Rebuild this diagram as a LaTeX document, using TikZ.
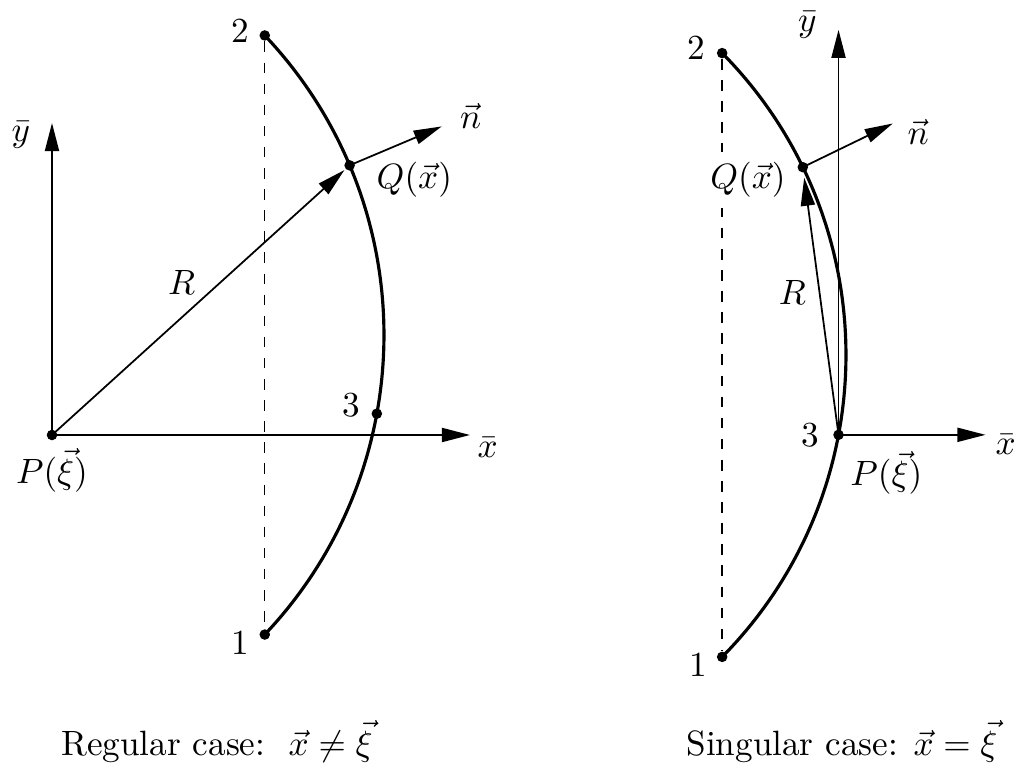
\documentclass[tikz,border=0pt]{standalone}
\usepackage{amsmath,amssymb}
\usepackage{tikz}
\usetikzlibrary{arrows.meta, positioning, calc}

\begin{document}
\begin{tikzpicture}[
  x=0.01cm, y=0.01cm,
  dot/.style={circle, fill=black, inner sep=0pt, minimum size=3pt},
  arr/.style={-{Triangle[length=8pt, width=4pt]}, line width=0.5pt},
  bnd/.style={line width=0.9pt},
  lbl/.style={inner sep=1pt},
]
  \useasboundingbox (0,0) rectangle (1025,767);

  % regular case
  \coordinate (c1) at (-52,432);
  \node[dot] (P1) at (52,332) {};
  \node[dot] (one1) at ($(c1)+(-43.4:436)$) {};
  \node[dot] (two1) at ($(c1)+(43.4:436)$) {};
  \node[dot] (three1) at ($(c1)+(-10.4:436)$) {};
  \node[dot] (Q1) at ($(c1)+(22.9:436)$) {};
  \coordinate (xend1) at (470,332);
  \coordinate (yend1) at (52,644);
  \coordinate (nend1) at ($(Q1)+(22.9:100)$);
  \draw[dashed, line width=0.4pt] (two1) -- (one1);
  \draw[bnd] (one1.center) arc[start angle=-43.4, end angle=43.4, radius=436];
  \draw[arr] (P1.center) -- (xend1);
  \draw[arr] (P1.center) -- (yend1);
  \draw[arr] (Q1.center) -- (nend1);
  \draw[arr, shorten >=2pt] (P1.center) -- (Q1.center)
    node[lbl, midway, above left=0.5pt] {$R$};
  \node[lbl, left=1.5pt of two1, yshift=1.4pt] {2};
  \node[lbl, left=1.5pt of one1, yshift=-2.3pt] {1};
  \node[lbl, left=2pt of three1, yshift=2.5pt] {3};
  \node[lbl, right=4.8pt of Q1, yshift=-4.2pt] {$Q(\vec{x})$};
  \node[lbl, right=4pt of nend1, yshift=3pt] {$\vec{n}$};
  \node[lbl, below=1pt of P1] {$P(\vec{\xi})$};
  \node[lbl, left=5pt of yend1, yshift=-3.4pt] {$\bar{y}$};
  \node[lbl, right=1pt of xend1, yshift=-3.7pt] {$\bar{x}$};
  \node[anchor=base] (capreg) at (217,12) {Regular case:\ \ $\vec{x}\neq\vec{\xi}$};

  % singular case
  \coordinate (c2) at (416,412);
  \node[dot] (P2) at ($(c2)+(-10.7:430)$) {};
  \node[dot] (one2) at ($(c2)+(-44.6:430)$) {};
  \node[dot] (two2) at ($(c2)+(44.6:430)$) {};
  \node[dot] (Q2) at ($(c2)+(25.9:430)$) {};
  \coordinate (xend2) at ($(P2)+(147,0)$);
  \coordinate (yend2) at ($(P2)+(0,405)$);
  \coordinate (nend2) at ($(Q2)+(25.9:100)$);
  \draw[dashed, line width=0.4pt] (two2) -- (one2);
  \node[lbl, left=0pt of Q2, yshift=-3.7pt, fill=white, inner sep=3pt] {$Q(\vec{x})$};
  \draw[bnd] (one2.center) arc[start angle=-44.6, end angle=44.6, radius=430];
  \draw[arr] (P2.center) -- (xend2);
  \draw[arr] (P2.center) -- (yend2);
  \draw[arr] (Q2.center) -- (nend2);
  \draw[arr, shorten >=3pt] (P2.center) -- (Q2.center)
    node[lbl, midway, left=3pt, yshift=2.5pt] {$R$};
  \node[lbl, left=2pt of two2, yshift=1.4pt] {2};
  \node[lbl, left=1.5pt of one2, yshift=-2.3pt] {1};
  \node[lbl, left=2.7pt of P2] {3};
  \node[lbl, below right=2.2pt and 1pt of P2] {$P(\vec{\xi})$};
  \node[lbl, right=3pt of nend2, yshift=-2.5pt] {$\vec{n}$};
  \node[lbl, left=5pt of yend2, yshift=1.4pt] {$\bar{y}$};
  \node[lbl, right=1.7pt of xend2, yshift=-2.8pt] {$\bar{x}$};
  \node[anchor=base] (capsing) at (842,12) {Singular case: $\vec{x}=\vec{\xi}$};
\end{tikzpicture}
\end{document}
